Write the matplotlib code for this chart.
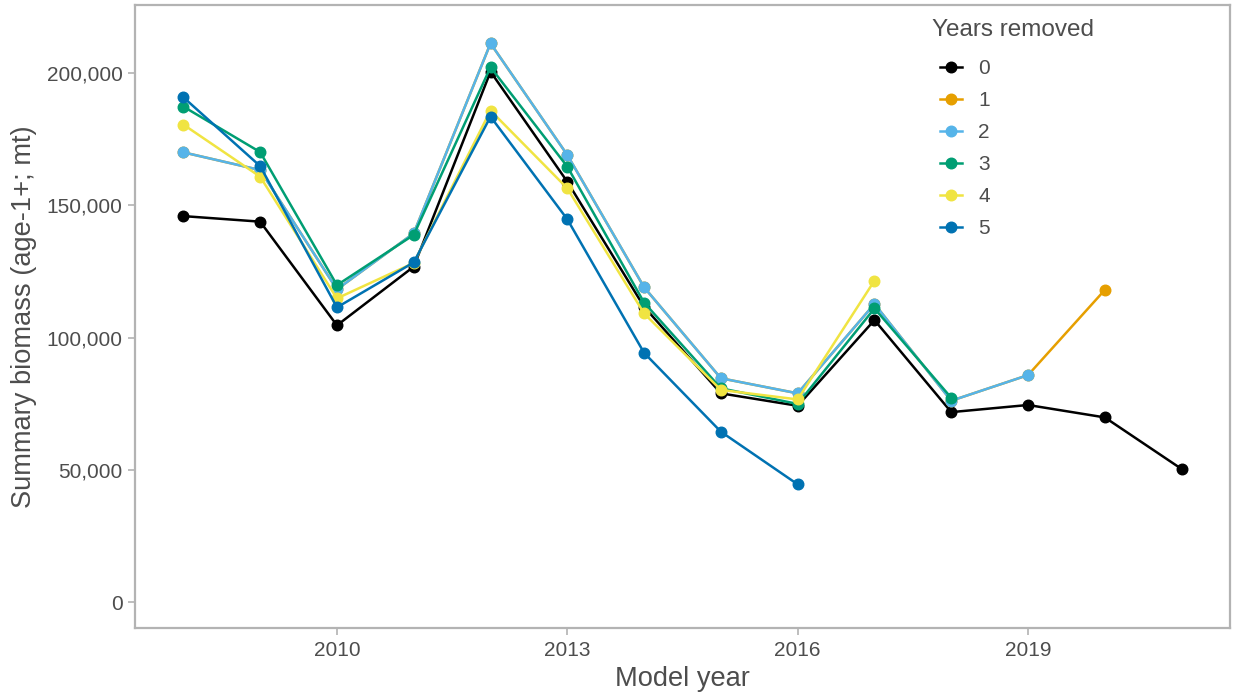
import matplotlib
matplotlib.use("Agg")
import matplotlib.pyplot as plt
import numpy as np

plt.rcParams["font.family"] = ["Liberation Sans", "DejaVu Sans"]

years = list(range(2008, 2022))
series_names = ["0", "1", "2", "3", "4", "5"]
colors = ["#000000", "#E69F00", "#56B4E9", "#009E73", "#F0E442", "#0072B2"]

b0 = [145.9, 143.8, 104.6, 126.8, 200.5, 158.9, 111.6, 78.9, 74.2, 106.6, 71.8, 74.5, 69.8, 50.3]
b1 = [170.0, 163.3, 118.2, 139.4, 211.2, 169.0, 119.0, 84.6, 78.9, 112.7, 76.1, 85.8, 118.0]
b2 = [170.0, 163.3, 118.2, 139.4, 211.2, 169.0, 119.0, 84.6, 78.9, 112.7, 76.1, 85.8]
b3 = [187.3, 170.1, 119.8, 138.8, 202.2, 164.6, 113.2, 80.8, 74.9, 111.0, 77.2]
b4 = [180.5, 160.8, 114.8, 128.2, 185.8, 156.4, 109.1, 80.2, 76.6, 121.5]
b5 = [190.8, 164.8, 111.4, 128.4, 183.5, 144.7, 94.2, 64.4, 44.5]
all_series = [b0, b1, b2, b3, b4, b5]

yticks = [0, 50000, 100000, 150000, 200000]
xticks = [2010, 2013, 2016, 2019]

W, H = 1236, 696
fig = plt.figure(figsize=(W / 100, H / 100), dpi=100)
ax = fig.add_axes([135 / W, 1 - 628 / H, (1230 - 135) / W, (628 - 5) / H])

for name, col, vals in zip(series_names, colors, all_series):
    x = years[:len(vals)]
    y = [v * 1000 for v in vals]
    ax.plot(x, y, color=col, lw=1.8, marker="o", ms=7.6, mec=col, mfc=col, label=name)

ax.set_xlim(2007.37, 2021.63)
ax.set_ylim(-9800, 225700)
ax.set_xticks(xticks)
ax.set_xticklabels([str(t) for t in xticks])
ax.set_yticks(yticks)
ax.set_yticklabels([f"{t:,}" for t in yticks])

grey_txt = "#4D4D4D"
frame = "#B3B3B3"
for sp in ax.spines.values():
    sp.set_color(frame)
    sp.set_linewidth(1.6)
ax.tick_params(axis="both", colors=frame, length=5, width=1.2, labelsize=15,
               labelcolor=grey_txt, pad=4)

ax.set_xlabel("Model year", fontsize=19.6, color=grey_txt, labelpad=5)
ax.set_ylabel("Summary biomass (age-1+; mt)", fontsize=19.6, color=grey_txt, labelpad=7)

ax.text((932 - 135) / 1095, 1 - (30 - 5) / 623, "Years removed", transform=ax.transAxes,
        fontsize=17.5, color=grey_txt, ha="left", va="center")
leg = ax.legend(loc="upper left", bbox_to_anchor=((940 - 135) / 1095, 1 - (59.5 - 5) / 623),
                frameon=False, fontsize=15, handlelength=1.06, borderaxespad=0,
                handletextpad=0.77, labelspacing=0.62, borderpad=0, markerscale=1.0)
for t in leg.get_texts():
    t.set_color(grey_txt)

fig.savefig("out.png", dpi=100)
